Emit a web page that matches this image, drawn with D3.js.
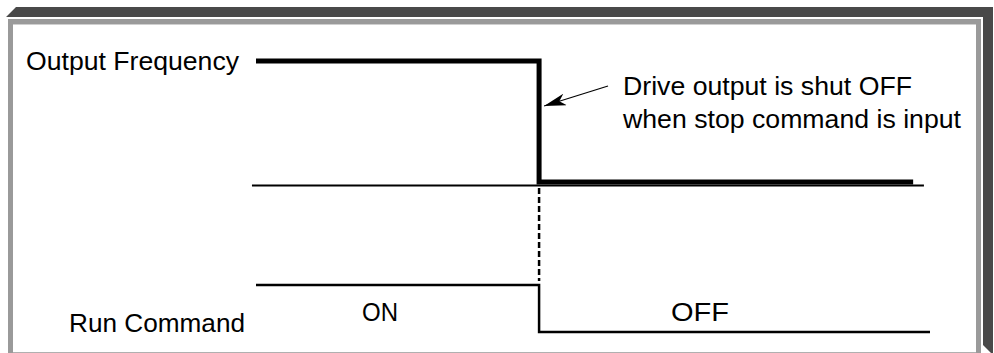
<!DOCTYPE html>
<html>
<head>
<meta charset="utf-8">
<script src="https://cdn.jsdelivr.net/npm/d3@7"></script>
<style>
  body { margin: 0; background: #fff; }
  svg { display: block; }
  text { font-family: "Liberation Sans", Arial, sans-serif; font-size: 26px; fill: #000; }
</style>
</head>
<body>
<svg id="chart" width="994" height="353"></svg>
<script>
// time axis runs 0..100, stop command arrives at t = 42
const stopTime = 42;
const freqSteps = [
  { t: 0, v: 1 },
  { t: stopTime, v: 1 },
  { t: stopTime, v: 0 },
  { t: 97.5, v: 0 }
];
const runSteps = [
  { t: 0, v: 1 },
  { t: stopTime, v: 1 },
  { t: stopTime, v: 0 },
  { t: 100, v: 0 }
];
const baseLine = [-0.6, 99.1];
const signalLabels = ["Output Frequency", "Run Command"];
const stateLabels = ["ON", "OFF"];
const noteLines = ["Drive output is shut OFF", "when stop command is input"];

const svg = d3.select("#chart");

// frame: dark drop shadow + gray border
svg.append("polygon")
  .attr("points", "6,17 16,7 993,7 993,353 991,353 983,345 983,17")
  .attr("fill", "#494949");
svg.append("path")
  .attr("d", "M8,353 V19 H981 V353 H976 V24 H13 V353 Z")
  .attr("fill", "#9a9a9a");
svg.append("line")
  .attr("x1", 13).attr("x2", 976).attr("y1", 24.5).attr("y2", 24.5)
  .attr("stroke", "#cfcfcf").attr("stroke-width", 1);
svg.append("line")
  .attr("x1", 13).attr("x2", 976).attr("y1", 352.5).attr("y2", 352.5)
  .attr("stroke", "#b0b0b0").attr("stroke-width", 1);

const x = d3.scaleLinear().domain([0, 100]).range([256, 930]);
const yFreq = d3.scaleLinear().domain([0, 1]).range([182, 61]);
const yRun = d3.scaleLinear().domain([0, 1]).range([332, 285]);

const g = svg.append("g");

// zero line for output frequency
g.append("line")
  .attr("x1", x(baseLine[0])).attr("x2", x(baseLine[1]))
  .attr("y1", yFreq(0) + 3.5).attr("y2", yFreq(0) + 3.5)
  .attr("stroke", "#000").attr("stroke-width", 2);

const freqLine = d3.line().x(d => x(d.t)).y(d => yFreq(d.v));
g.append("path")
  .datum(freqSteps)
  .attr("d", freqLine)
  .attr("fill", "none")
  .attr("stroke", "#000")
  .attr("stroke-width", 5)
  .attr("stroke-linejoin", "miter");

const runLine = d3.line().x(d => x(d.t)).y(d => yRun(d.v));
g.append("path")
  .datum(runSteps)
  .attr("d", runLine)
  .attr("fill", "none")
  .attr("stroke", "#000")
  .attr("stroke-width", 2.5);

// dashed marker linking both signals at stop time
g.append("line")
  .attr("x1", x(stopTime)).attr("x2", x(stopTime))
  .attr("y1", yFreq(0) + 6).attr("y2", yRun(1) - 4)
  .attr("stroke", "#000")
  .attr("stroke-width", 2.5)
  .attr("stroke-dasharray", "6,3");

// arrow to the drop
svg.append("defs").append("marker")
  .attr("id", "head")
  .attr("viewBox", "0 0 22 12")
  .attr("refX", 22).attr("refY", 6)
  .attr("markerWidth", 22).attr("markerHeight", 12)
  .attr("markerUnits", "userSpaceOnUse")
  .attr("orient", "auto")
  .append("path")
  .attr("d", "M0,0 L22,6 L0,12 L6,6 Z")
  .attr("fill", "#000");

g.append("line")
  .attr("x1", 608).attr("y1", 86)
  .attr("x2", x(stopTime) + 5).attr("y2", 106)
  .attr("stroke", "#000")
  .attr("stroke-width", 1.2)
  .attr("marker-end", "url(#head)");

function label(txt, x0, y0, w) {
  svg.append("text")
    .attr("x", x0).attr("y", y0)
    .attr("textLength", w)
    .attr("lengthAdjust", "spacingAndGlyphs")
    .text(txt);
}

label(signalLabels[0], 26, 70, 213);
label(signalLabels[1], 69, 332, 176);
label(noteLines[0], 623, 95, 289);
label(noteLines[1], 623, 128, 338);
label(stateLabels[0], 362, 321, 36);
label(stateLabels[1], 671, 321, 58);
</script>
</body>
</html>
